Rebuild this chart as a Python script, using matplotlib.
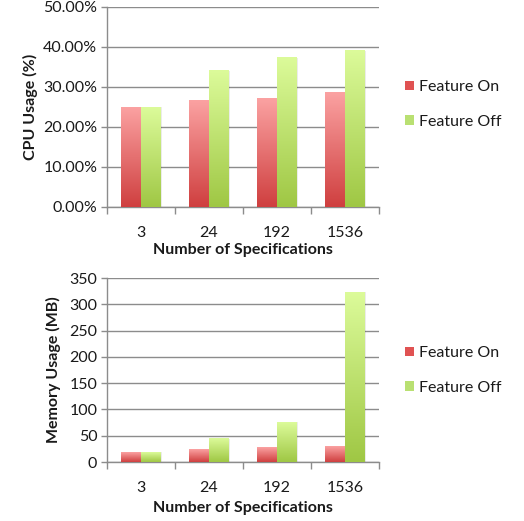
import numpy as np
import matplotlib
matplotlib.use("Agg")
import matplotlib.pyplot as plt
from matplotlib.colors import LinearSegmentedColormap
from matplotlib.patches import Patch
from matplotlib.ticker import FuncFormatter, MultipleLocator

plt.rcParams["font.family"] = ["Lato", "DejaVu Sans"]

categories = ["3", "24", "192", "1536"]
series = ["Feature On", "Feature Off"]
cpu_on = [0.250, 0.267, 0.271, 0.287]
cpu_off = [0.250, 0.341, 0.373, 0.391]
mem_on = [19, 23, 28, 30]
mem_off = [19, 44, 76, 323]

GRID = "#8c8c8c"
TXT = "#1a1a1a"
FS = 11.5
cmaps = {
    "Feature On": LinearSegmentedColormap.from_list("on", ["#cf3f3f", "#fba2a2"]),
    "Feature Off": LinearSegmentedColormap.from_list("off", ["#9fc744", "#dcfb9a"]),
}
legend_cols = {"Feature On": "#e05252", "Feature Off": "#b9e072"}

W, H = 524, 521
fig = plt.figure(figsize=(W / 100, H / 100), dpi=100)
grad = np.linspace(0, 1, 256).reshape(-1, 1)


def grad_bars(ax, values, offset, width, name):
    for i, v in enumerate(values):
        x0 = i + offset - width / 2
        # faint shadow on the right side
        ax.add_patch(plt.Rectangle((x0 + 0.025, 0), width, v, color="#000000",
                                   alpha=0.08, lw=0, zorder=2))
        ax.imshow(grad, cmap=cmaps[name], origin="lower", aspect="auto",
                  extent=(x0, x0 + width, 0, v), zorder=3, interpolation="bilinear")


def style(ax, ymax, step, fmt, ylabel, ylab_x, xlab_y):
    ax.set_xlim(-0.5, len(categories) - 0.5)
    ax.set_ylim(0, ymax)
    ax.yaxis.set_major_locator(MultipleLocator(step))
    ax.yaxis.set_major_formatter(FuncFormatter(fmt))
    ax.set_xticks(range(len(categories)))
    ax.set_xticklabels(categories)
    ax.set_xticks(np.arange(-0.5, len(categories)), minor=True)
    ax.tick_params(axis="x", which="major", length=0, pad=14, labelsize=FS, labelcolor=TXT)
    ax.tick_params(axis="x", which="minor", length=5, color=GRID, width=1)
    ax.tick_params(axis="y", length=4, color=GRID, width=1, labelsize=FS, labelcolor=TXT, pad=3)
    ax.grid(axis="y", color=GRID, lw=1)
    ax.set_axisbelow(True)
    for s in ["top", "right"]:
        ax.spines[s].set_visible(False)
    for s in ["left", "bottom"]:
        ax.spines[s].set_color(GRID)
        ax.spines[s].set_linewidth(1)
    bb = ax.get_position()
    fig.text(ylab_x / W, bb.y0 + bb.height / 2, ylabel, rotation=90, ha="center", va="center",
             fontsize=FS, fontweight="bold", color=TXT)
    fig.text((bb.x0 + bb.x1) / 2, 1 - xlab_y / H, "Number of Specifications", ha="center",
             va="center", fontsize=FS, fontweight="bold", color=TXT)


def add_legend(y_px):
    handles = [Patch(facecolor=legend_cols[s], edgecolor="none", label=s) for s in series]
    fig.legend(handles=handles, loc="center left", bbox_to_anchor=(405 / W, 1 - y_px / H),
               bbox_transform=fig.transFigure, frameon=False, handlelength=0.55,
               handleheight=0.55, handletextpad=0.3, labelspacing=1.3, fontsize=FS,
               labelcolor=TXT, borderpad=0, borderaxespad=0)


ax1 = fig.add_axes([107 / W, 1 - 207 / H, 272 / W, 200 / H])
grad_bars(ax1, cpu_on, -0.145, 0.29, "Feature On")
grad_bars(ax1, cpu_off, 0.145, 0.29, "Feature Off")
style(ax1, 0.5, 0.1, lambda v, p: f"{v * 100:.2f}%", "CPU Usage (%)", 30, 250)
add_legend(104.5)

ax2 = fig.add_axes([107 / W, 1 - 462 / H, 272 / W, 184 / H])
grad_bars(ax2, mem_on, -0.145, 0.29, "Feature On")
grad_bars(ax2, mem_off, 0.145, 0.29, "Feature Off")
style(ax2, 350, 50, lambda v, p: f"{v:.0f}", "Memory Usage (MB)", 53, 508)
add_legend(370.5)

fig.savefig("out.png", dpi=100)
